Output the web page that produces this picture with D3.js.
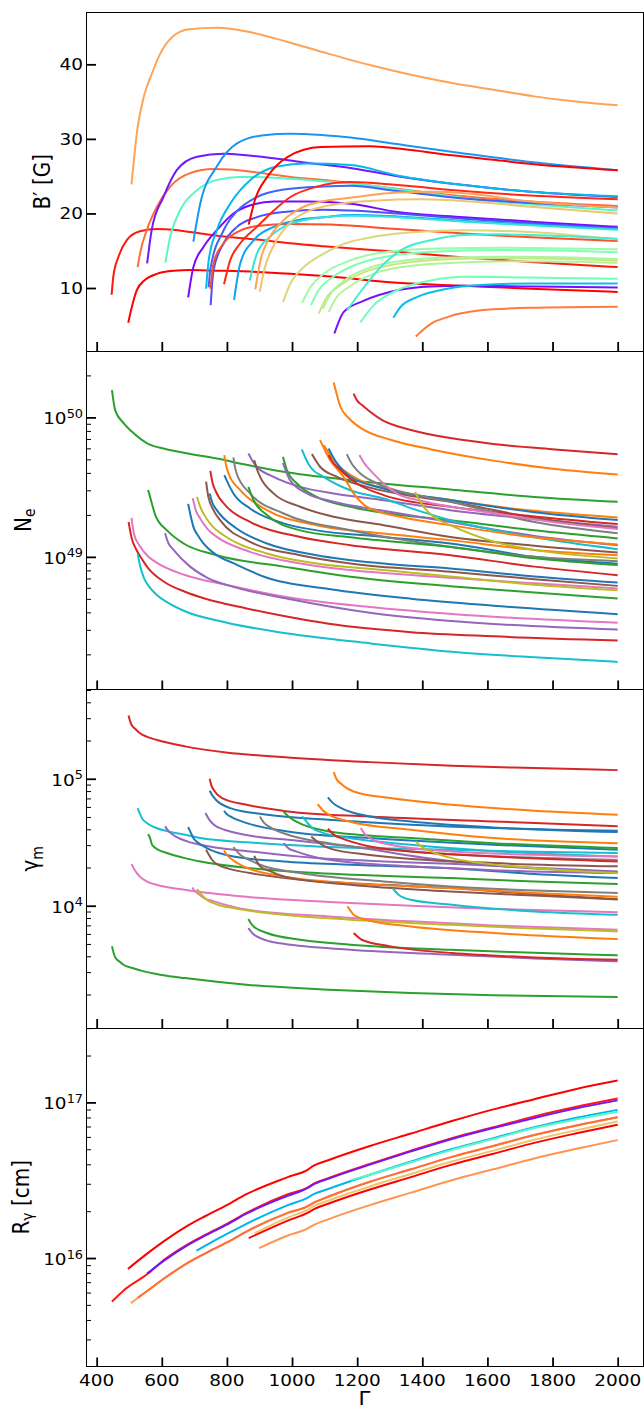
<!DOCTYPE html>
<html><head><meta charset="utf-8">
<script src="https://cdn.jsdelivr.net/npm/d3@7/dist/d3.min.js"></script>
<style>
html,body{margin:0;padding:0;background:#fff}
svg{display:block}
text{font-family:"DejaVu Sans",sans-serif;fill:#000}
</style></head>
<body>
<svg id="chart" width="644" height="1410"></svg>
<script>
// ================= DATA =================
const gammaTicks = [400, 600, 800, 1000, 1200, 1400, 1600, 1800, 2000];
const fieldTicks = [10, 20, 30, 40];

// Panel 1: B' [G] vs Gamma
const fieldSeries = [
 [[446,9.1],[451,11.5],[467,14.2],[492,16.4],[533,17.6],[585,17.9],[636,17.8],[687,17.5],[790,16.9],[892,16.5],[995,16.0],[1097,15.6],[1323,14.85],[1528,14.1],[1733,13.5],[2000,12.8]],
 [[497,5.34],[508,7.45],[523,9.69],[549,11.1],[585,11.9],[636,12.3],[687,12.4],[790,12.3],[892,12.15],[995,11.9],[1097,11.6],[1323,10.7],[1528,10.3],[1733,9.9],[2000,9.47]],
 [[507,23.9],[526,31.6],[545,35.7],[570,38.8],[596,41.5],[633,43.7],[684,44.7],[772,44.9],[861,44.4],[987,43.0],[1113,41.4],[1239,39.9],[1365,38.6],[1491,37.5],[1618,36.6],[1744,35.7],[1870,35.0],[2000,34.5]],
 [[526,12.8],[533,14.6],[554,17.8],[585,20.9],[626,23.6],[687,25.4],[759,25.95],[810,25.9],[892,25.5],[995,24.9],[1118,24.4],[1323,23.3],[1528,22.3],[1733,21.6],[2000,21.0]],
 [[555,13.3],[569,17.8],[605,22.2],[646,25.8],[708,27.6],[790,28.0],[862,27.8],[944,27.4],[1046,26.8],[1179,26.1],[1323,25.0],[1528,23.8],[1733,22.9],[2000,22.2]],
 [[611,13.4],[626,16.9],[656,20.4],[708,23.1],[769,24.5],[841,24.9],[944,24.8],[1046,24.5],[1179,24.0],[1400,22.8],[1600,21.7],[1800,21.0],[2000,20.4]],
 [[681,8.75],[697,12.8],[728,15.5],[769,17.75],[820,20.0],[872,21.1],[944,21.6],[1046,21.6],[1179,21.3],[1323,20.2],[1528,19.5],[1733,18.9],[2000,18.2]],
 [[697,16.2],[718,21.3],[769,26.3],[831,29.4],[913,30.5],[995,30.7],[1097,30.5],[1179,30.2],[1323,29.3],[1528,28.05],[1733,26.9],[2000,25.8]],
 [[736,9.9],[744,13.7],[769,17.75],[810,21.3],[872,24.5],[954,26.3],[1046,26.7],[1179,26.5],[1323,25.1],[1528,23.8],[1733,22.9],[2000,22.3]],
 [[750,7.7],[759,12.4],[790,16.0],[831,18.2],[892,19.5],[975,20.2],[1097,20.5],[1179,20.4],[1323,20.0],[1528,19.3],[1733,18.7],[2000,18.0]],
 [[744,10.1],[749,12.5],[790,17.75],[831,20.3],[892,22.2],[975,23.2],[1097,23.6],[1179,23.7],[1323,23.0],[1528,22.0],[1733,21.4],[2000,20.8]],
 [[749,9.9],[760,13.5],[790,16.0],[841,17.7],[892,18.3],[995,18.6],[1118,18.5],[1323,17.9],[1528,17.3],[1733,16.8],[2000,16.3]],
 [[791,10.5],[810,13.7],[841,16.0],[892,18.2],[944,20.4],[995,22.2],[1077,23.6],[1179,24.2],[1323,23.8],[1528,23.0],[1733,22.4],[2000,21.9]],
 [[822,8.4],[841,13.3],[882,16.4],[944,18.2],[1015,19.1],[1097,19.5],[1179,19.8],[1323,19.6],[1528,19.0],[1733,18.5],[2000,17.9]],
 [[867,18.5],[886,21.8],[924,24.9],[987,27.6],[1088,28.9],[1239,29.0],[1365,28.5],[1491,27.8],[1618,27.2],[1744,26.6],[2000,25.8]],
 [[870,11.0],[892,14.6],[933,16.9],[995,18.6],[1097,19.5],[1179,19.7],[1323,19.5],[1528,18.9],[1733,18.4],[2000,17.8]],
 [[887,9.8],[903,13.7],[933,16.9],[974,19.1],[1036,20.9],[1118,21.8],[1179,22.1],[1323,22.8],[1426,22.9],[1528,22.7],[1733,21.6],[2000,20.8]],
 [[901,9.5],[915,12.5],[945,15.8],[990,18.6],[1050,20.3],[1118,21.1],[1250,21.7],[1400,21.9],[1550,21.6],[1733,20.9],[2000,20.0]],
 [[972,8.1],[995,10.6],[1036,12.8],[1097,14.6],[1179,16.2],[1220,16.6],[1323,17.3],[1528,17.75],[1733,17.5],[2000,16.5]],
 [[1031,8.0],[1056,10.1],[1097,11.9],[1179,13.7],[1300,14.9],[1450,15.3],[1650,15.4],[1850,15.3],[2000,15.2]],
 [[1058,7.7],[1080,9.6],[1130,11.6],[1200,13.2],[1300,14.3],[1450,14.9],[1650,15.1],[1850,15.0],[2000,14.8]],
 [[1082,6.55],[1100,8.3],[1150,10.4],[1220,12.1],[1320,13.2],[1450,13.8],[1650,14.0],[1850,13.9],[2000,13.7]],
 [[1095,7.2],[1115,9.0],[1160,11.0],[1230,12.6],[1330,13.6],[1480,14.1],[1700,14.2],[2000,13.9]],
 [[1113,6.8],[1130,8.3],[1180,10.3],[1250,11.9],[1350,12.9],[1500,13.4],[1700,13.6],[2000,13.4]],
 [[1130,3.9],[1159,6.8],[1221,8.3],[1323,9.7],[1426,10.2],[1528,10.3],[1733,10.2],[2000,10.05]],
 [[1169,7.0],[1221,10.1],[1272,12.8],[1344,15.3],[1426,16.4],[1528,17.1],[1631,17.2],[1733,17.1],[2000,16.6]],
 [[1210,5.4],[1251,7.7],[1323,9.7],[1426,11.0],[1528,11.5],[1733,11.4],[2000,11.25]],
 [[1311,6.0],[1333,7.45],[1385,8.8],[1477,9.9],[1579,10.4],[1733,10.6],[2000,10.6]],
 [[1380,3.5],[1426,5.2],[1477,6.1],[1579,7.0],[1733,7.35],[2000,7.5]]
];
const fieldHue = [0.97,1.0,0.78,0.86,0.03,0.42,0.01,0.2,0.26,0.1,0.13,0.9,0.95,0.22,1.0,0.35,0.78,0.72,0.68,0.55,0.5,0.65,0.58,0.6,0.02,0.38,0.47,0.27,0.84];

// Panel 2: N_e (log10 values) vs Gamma
const electronLog = [
 [[447,50.196],[457,50.05],[482,49.96],[507,49.90],[558,49.81],[608,49.775],[671,49.745],[769,49.705],[860,49.66],[974,49.61],[1179,49.55],[1486,49.483],[1744,49.43],[2000,49.395]],
 [[498,49.25],[508,49.13],[520,49.06],[540,48.98],[558,48.92],[608,48.82],[671,48.75],[734,48.70],[860,48.63],[987,48.57],[1113,48.52],[1365,48.46],[1618,48.43],[2000,48.40]],
 [[507,49.28],[515,49.16],[532,49.08],[555,49.01],[583,48.96],[671,48.87],[797,48.80],[987,48.71],[1239,48.64],[1491,48.59],[2000,48.527]],
 [[526,49.02],[535,48.92],[545,48.85],[560,48.79],[583,48.73],[620,48.67],[671,48.61],[797,48.53],[987,48.45],[1239,48.38],[1491,48.32],[1744,48.28],[2000,48.247]],
 [[558,49.48],[564,49.43],[580,49.30],[616,49.19],[667,49.096],[769,49.012],[974,48.93],[1179,48.857],[1486,48.79],[1744,48.745],[2000,48.702]],
 [[610,49.17],[620,49.10],[636,49.05],[687,48.93],[740,48.85],[820,48.785],[987,48.70],[1239,48.60],[1491,48.54],[2000,48.479]],
 [[681,49.38],[690,49.28],[697,49.215],[712,49.15],[728,49.096],[770,49.01],[820,48.955],[923,48.85],[1113,48.77],[1365,48.70],[1618,48.65],[2000,48.589]],
 [[695,49.42],[705,49.33],[718,49.275],[740,49.2],[769,49.143],[871,49.036],[1025,48.952],[1179,48.905],[1486,48.85],[1744,48.81],[2000,48.773]],
 [[708,49.43],[718,49.36],[728,49.31],[755,49.22],[790,49.155],[923,49.024],[1076,48.952],[1281,48.905],[1486,48.86],[1744,48.80],[2000,48.761]],
 [[736,49.54],[743,49.43],[760,49.33],[779,49.263],[871,49.108],[1025,49.012],[1179,48.952],[1486,48.893],[1744,48.84],[2000,48.792]],
 [[747,49.455],[755,49.39],[769,49.335],[830,49.203],[923,49.096],[1076,49.012],[1281,48.952],[1486,48.916],[1744,48.86],[2000,48.816]],
 [[749,49.617],[756,49.53],[764,49.478],[800,49.359],[871,49.251],[1025,49.143],[1179,49.084],[1486,49.012],[1744,48.93],[2000,48.869]],
 [[792,49.73],[798,49.65],[805,49.598],[841,49.478],[923,49.335],[1076,49.227],[1281,49.167],[1486,49.12],[1744,49.05],[2000,49.012]],
 [[792,49.586],[805,49.52],[820,49.455],[871,49.347],[974,49.24],[1076,49.19],[1281,49.143],[1486,49.096],[1744,49.0],[2000,48.95]],
 [[820,49.713],[825,49.64],[830,49.598],[871,49.455],[974,49.311],[1179,49.191],[1486,49.072],[1744,49.0],[2000,48.969]],
 [[866,49.502],[874,49.45],[882,49.406],[923,49.30],[1025,49.19],[1179,49.14],[1486,49.07],[1744,48.99],[2000,48.941]],
 [[866,49.741],[878,49.69],[892,49.646],[943,49.574],[1025,49.502],[1128,49.454],[1281,49.406],[1486,49.335],[1744,49.27],[2000,49.216]],
 [[884,49.693],[892,49.63],[902,49.574],[943,49.455],[1025,49.359],[1128,49.287],[1281,49.227],[1486,49.143],[1744,49.08],[2000,49.032]],
 [[972,49.717],[978,49.67],[984,49.622],[1015,49.526],[1076,49.43],[1179,49.359],[1383,49.287],[1486,49.263],[1744,49.19],[2000,49.132]],
 [[972,49.674],[982,49.61],[994,49.55],[1046,49.455],[1128,49.395],[1281,49.33],[1486,49.25],[1744,49.15],[2000,49.084]],
 [[1030,49.77],[1043,49.70],[1056,49.646],[1097,49.574],[1179,49.478],[1281,49.419],[1383,49.335],[1486,49.263],[1744,49.14],[2000,49.055]],
 [[1061,49.737],[1073,49.69],[1086,49.646],[1138,49.574],[1230,49.502],[1383,49.43],[1486,49.395],[1744,49.28],[2000,49.204]],
 [[1086,49.837],[1100,49.77],[1117,49.693],[1138,49.63],[1158,49.574],[1189,49.455],[1230,49.359],[1332,49.287],[1486,49.227],[1744,49.14],[2000,49.089]],
 [[1098,49.80],[1120,49.72],[1150,49.64],[1200,49.56],[1300,49.48],[1486,49.407],[1744,49.33],[2000,49.283]],
 [[1112,49.777],[1125,49.72],[1138,49.67],[1179,49.574],[1281,49.49],[1486,49.407],[1744,49.32],[2000,49.264]],
 [[1112,49.73],[1125,49.68],[1138,49.646],[1199,49.526],[1281,49.443],[1486,49.359],[1744,49.29],[2000,49.235]],
 [[1128,50.25],[1138,50.16],[1148,50.08],[1176,49.99],[1214,49.92],[1302,49.84],[1428,49.77],[1618,49.69],[1807,49.63],[2000,49.591]],
 [[1168,49.737],[1183,49.67],[1199,49.622],[1261,49.526],[1383,49.443],[1486,49.395],[1744,49.25],[2000,49.17]],
 [[1189,50.17],[1200,50.12],[1214,50.09],[1277,49.98],[1365,49.91],[1491,49.85],[1618,49.81],[1807,49.77],[2000,49.735]],
 [[1207,49.73],[1222,49.67],[1240,49.622],[1281,49.526],[1322,49.454],[1400,49.40],[1600,49.32],[1800,49.25],[2000,49.20]],
 [[1378,49.466],[1390,49.41],[1404,49.359],[1435,49.287],[1486,49.227],[1618,49.11],[1744,49.05],[2000,48.989]]
];
const electronColor = ["C2","C3","C6","C9","C2","C4","C0","C6","C8","C5","C0","C3","C1","C0","C7","C2","C4","C5","C2","C4","C9","C5","C1","C1","C0","C3","C1","C7","C3","C6","C8"];

// Panel 3: gamma_m (log10 values) vs Gamma
const lorentzLog = [
 [[498,5.499],[502,5.46],[507,5.425],[520,5.39],[532,5.36],[555,5.33],[583,5.307],[671,5.255],[797,5.207],[987,5.168],[1239,5.131],[1491,5.102],[1744,5.084],[2000,5.068]],
 [[447,3.68],[452,3.63],[457,3.593],[470,3.56],[482,3.535],[510,3.51],[545,3.483],[600,3.455],[671,3.43],[860,3.378],[1113,3.339],[1365,3.312],[1618,3.294],[2000,3.281]],
 [[507,4.328],[515,4.29],[532,4.231],[555,4.19],[583,4.165],[671,4.126],[860,4.07],[1113,4.03],[1365,4.0],[1618,3.975],[2000,3.948]],
 [[526,4.769],[532,4.73],[539,4.69],[555,4.65],[583,4.612],[620,4.585],[671,4.559],[718,4.533],[860,4.50],[1076,4.467],[1302,4.45],[1486,4.441],[1744,4.425],[2000,4.415]],
 [[558,4.564],[564,4.533],[570,4.48],[590,4.44],[616,4.415],[671,4.375],[718,4.349],[871,4.296],[1076,4.257],[1486,4.218],[1744,4.19],[2000,4.171]],
 [[610,4.625],[620,4.59],[646,4.54],[680,4.505],[718,4.48],[871,4.428],[1076,4.375],[1281,4.349],[1486,4.33],[1744,4.30],[2000,4.27]],
 [[681,4.619],[690,4.57],[697,4.533],[715,4.49],[738,4.454],[820,4.388],[974,4.349],[1179,4.323],[1486,4.296],[1744,4.25],[2000,4.218]],
 [[694,4.144],[700,4.12],[709,4.10],[730,4.06],[760,4.034],[860,3.97],[1113,3.916],[1365,3.877],[1618,3.845],[2000,3.811]],
 [[708,4.131],[718,4.10],[738,4.047],[770,4.01],[820,3.981],[974,3.929],[1179,3.89],[1486,3.85],[1744,3.82],[2000,3.798]],
 [[734,4.73],[745,4.68],[760,4.638],[790,4.60],[810,4.585],[886,4.546],[987,4.52],[1200,4.46],[1400,4.38],[1600,4.32],[2000,4.265]],
 [[736,4.441],[745,4.40],[754,4.362],[775,4.32],[800,4.296],[871,4.257],[1025,4.205],[1281,4.165],[1486,4.139],[1744,4.09],[2000,4.052]],
 [[747,5.0],[752,4.95],[760,4.91],[785,4.848],[861,4.795],[987,4.743],[1239,4.703],[1618,4.664],[2000,4.625]],
 [[747,4.906],[755,4.87],[766,4.835],[810,4.769],[924,4.717],[1113,4.677],[1365,4.638],[1618,4.612],[2000,4.59]],
 [[791,4.748],[800,4.72],[810,4.703],[861,4.651],[987,4.585],[1239,4.533],[1618,4.48],[2000,4.441]],
 [[791,4.435],[800,4.40],[810,4.375],[830,4.34],[851,4.31],[974,4.231],[1179,4.178],[1486,4.139],[1744,4.10],[2000,4.07]],
 [[820,4.462],[830,4.43],[841,4.401],[870,4.36],[902,4.323],[1025,4.257],[1281,4.191],[1486,4.152],[1744,4.12],[2000,4.10]],
 [[884,4.393],[892,4.35],[902,4.31],[935,4.27],[974,4.231],[1179,4.165],[1486,4.113],[1744,4.08],[2000,4.05]],
 [[866,3.895],[874,3.86],[882,3.837],[923,3.785],[1025,3.732],[1179,3.693],[1486,3.653],[1744,3.63],[2000,3.609]],
 [[866,3.824],[880,3.78],[892,3.758],[930,3.72],[974,3.70],[1179,3.653],[1486,3.614],[1744,3.585],[2000,3.562]],
 [[901,4.703],[915,4.65],[937,4.612],[987,4.559],[1113,4.493],[1365,4.428],[1618,4.39],[2000,4.36]],
 [[972,4.748],[990,4.70],[1012,4.664],[1113,4.585],[1365,4.533],[1618,4.493],[2000,4.454]],
 [[974,4.493],[990,4.45],[1012,4.428],[1060,4.39],[1113,4.362],[1365,4.31],[1618,4.28],[2000,4.257]],
 [[1031,4.703],[1045,4.66],[1062,4.612],[1100,4.57],[1176,4.533],[1365,4.48],[1618,4.43],[2000,4.388]],
 [[1059,4.546],[1080,4.50],[1113,4.454],[1239,4.40],[1618,4.336],[2000,4.31]],
 [[1079,4.80],[1095,4.75],[1113,4.717],[1176,4.664],[1365,4.598],[1618,4.533],[2000,4.493]],
 [[1110,4.853],[1125,4.81],[1151,4.769],[1239,4.703],[1365,4.664],[1618,4.617],[2000,4.58]],
 [[1110,4.606],[1128,4.56],[1151,4.533],[1239,4.467],[1365,4.428],[1618,4.388],[2000,4.349]],
 [[1128,5.052],[1136,5.00],[1148,4.966],[1189,4.90],[1302,4.848],[1491,4.795],[1744,4.748],[2000,4.717]],
 [[1170,3.995],[1180,3.96],[1189,3.929],[1239,3.882],[1365,3.837],[1618,3.785],[2000,3.738]],
 [[1189,3.785],[1200,3.76],[1214,3.732],[1302,3.68],[1491,3.627],[1744,3.593],[2000,3.575]],
 [[1211,4.612],[1225,4.56],[1239,4.533],[1302,4.48],[1491,4.428],[2000,4.388]],
 [[1380,4.507],[1395,4.47],[1416,4.44],[1491,4.375],[1744,4.297],[2000,4.257]],
 [[1309,4.139],[1318,4.11],[1327,4.087],[1365,4.047],[1491,4.008],[1744,3.955],[2000,3.929]]
];
const lorentzColor = ["C3","C2","C6","C9","C2","C4","C0","C6","C8","C4","C5","C3","C0","C0","C1","C7","C5","C2","C4","C7","C2","C4","C9","C5","C1","C0","C3","C1","C1","C3","C6","C8","C9"];

// Panel 4: R_gamma [cm] (log10 values) vs Gamma
const radiusLog = [
 [[447,15.72],[482,15.79],[558,15.90],[608,15.99],[681,16.09],[734,16.15],[800,16.22],[860,16.29],[987,16.41],[1050,16.455],[1062,16.472],[1113,16.515],[1239,16.605],[1365,16.69],[1491,16.77],[1618,16.84],[1744,16.91],[1870,16.97],[2000,17.025]],
 [[496,15.93],[550,16.02],[608,16.11],[681,16.21],[734,16.27],[800,16.34],[860,16.41],[987,16.52],[1050,16.57],[1062,16.588],[1113,16.63],[1239,16.72],[1365,16.80],[1491,16.88],[1618,16.955],[1744,17.02],[1870,17.085],[2000,17.14]],
 [[505,15.71],[550,15.78],[608,15.87],[681,15.97],[734,16.03],[800,16.10],[860,16.17],[987,16.29],[1050,16.335],[1062,16.35],[1113,16.395],[1239,16.49],[1365,16.57],[1491,16.65],[1618,16.72],[1744,16.79],[1870,16.85],[2000,16.905]],
 [[526,15.745],[550,15.78],[608,15.87],[681,15.97],[734,16.03],[800,16.10],[860,16.17],[987,16.29],[1050,16.335],[1062,16.35],[1113,16.395],[1239,16.49],[1365,16.57],[1491,16.65],[1618,16.72],[1744,16.79],[1870,16.85],[2000,16.905]],
 [[555,15.90],[608,15.985],[681,16.085],[734,16.145],[800,16.215],[860,16.285],[987,16.40],[1050,16.452],[1062,16.468],[1113,16.51],[1239,16.60],[1365,16.685],[1491,16.765],[1618,16.835],[1744,16.90],[1870,16.96],[2000,17.013]],
 [[706,16.047],[734,16.08],[800,16.155],[860,16.22],[987,16.34],[1050,16.39],[1062,16.405],[1113,16.445],[1239,16.535],[1365,16.62],[1491,16.70],[1618,16.77],[1744,16.84],[1870,16.90],[2000,16.952]],
 [[1180,16.50],[1239,16.535],[1365,16.615],[1491,16.695],[1618,16.765],[1744,16.835],[1870,16.89],[2000,16.94]],
 [[867,16.128],[987,16.24],[1050,16.293],[1062,16.308],[1113,16.35],[1239,16.44],[1365,16.52],[1491,16.60],[1618,16.67],[1744,16.74],[1870,16.80],[2000,16.857]],
 [[885,16.16],[987,16.26],[1050,16.313],[1062,16.328],[1113,16.37],[1239,16.46],[1365,16.54],[1491,16.62],[1618,16.69],[1744,16.76],[1870,16.82],[2000,16.878]],
 [[899,16.064],[987,16.145],[1050,16.192],[1062,16.207],[1113,16.25],[1239,16.34],[1365,16.42],[1491,16.50],[1618,16.57],[1744,16.64],[1870,16.70],[2000,16.758]]
];
const radiusHue = [0.97,1.0,0.78,0.86,0.03,0.25,0.42,1.0,0.72,0.8];

// ================= LAYOUT / STYLE =================
const L = 86, R = 643, TOP = 12.5, PH = 338.5;
const SX = 1.12;           // horizontal text stretch
const TICK_FS = 16.5, LABEL_FS = 20;
const svg = d3.select("#chart");

function rainbow(t){
  const r = Math.min(1, Math.abs(2*t - 0.5));
  const g = Math.sin(Math.PI*t);
  const b = Math.cos(Math.PI*t/2);
  return d3.rgb(Math.round(r*255), Math.round(g*255), Math.round(b*255)).formatHex();
}
const tab = c => d3.schemeCategory10[+c.slice(1)];

const x = d3.scaleLinear().domain([367.25, 2077.75]).range([L, R]);

const panels = [
  {y: d3.scaleLinear().domain([1.55, 46.95]), log:false, series: fieldSeries, color: i => rainbow(fieldHue[i]), majors: fieldTicks},
  {y: d3.scaleLog().domain([Math.pow(10,48.049), Math.pow(10,50.476)]), log:true, series: electronLog, color: i => tab(electronColor[i])},
  {y: d3.scaleLog().domain([Math.pow(10,3.037), Math.pow(10,5.703)]), log:true, series: lorentzLog, color: i => tab(lorentzColor[i])},
  {y: d3.scaleLog().domain([Math.pow(10,15.303), Math.pow(10,17.478)]), log:true, series: radiusLog, color: i => rainbow(radiusHue[i])}
];

panels.forEach((p, k) => {
  const top = TOP + k*PH, bot = top + PH;
  p.y.range([bot, top]);
  const g = svg.append("g");
  const clipId = "clip"+k;
  svg.append("clipPath").attr("id", clipId).append("rect")
    .attr("x", L).attr("y", top).attr("width", R-L).attr("height", PH);

  const line = d3.line()
    .x(d => x(d[0]))
    .y(d => p.log ? p.y(Math.pow(10, d[1])) : p.y(d[1]))
    .curve(d3.curveMonotoneX);

  const lg = g.append("g").attr("clip-path", `url(#${clipId})`);
  p.series.forEach((s, i) => {
    lg.append("path").attr("d", line(s))
      .attr("fill","none").attr("stroke", p.color(i))
      .attr("stroke-width", 2).attr("stroke-linejoin","round").attr("stroke-linecap","butt");
  });

  // x ticks (inward)
  const xa = g.append("g").attr("transform", `translate(0,${bot})`)
    .call(d3.axisBottom(x).tickValues(gammaTicks).tickSizeInner(-9).tickSizeOuter(0).tickFormat(""));
  xa.select(".domain").remove();
  xa.selectAll("line").attr("stroke","#000").attr("stroke-width",1.8);

  // y ticks
  let majors, minors = [];
  if (p.log) {
    const all = p.y.ticks();
    majors = all.filter(v => Math.abs(Math.log10(v) - Math.round(Math.log10(v))) < 1e-9);
    minors = all.filter(v => !majors.includes(v));
  } else majors = p.majors;
  const ya = g.append("g").attr("transform", `translate(${L},0)`)
    .call(d3.axisLeft(p.y).tickValues(majors).tickSizeInner(-10).tickSizeOuter(0).tickFormat(""));
  ya.select(".domain").remove();
  ya.selectAll("line").attr("stroke","#000").attr("stroke-width",1.8);
  if (minors.length) {
    const ym = g.append("g").attr("transform", `translate(${L},0)`)
      .call(d3.axisLeft(p.y).tickValues(minors).tickSizeInner(-5).tickSizeOuter(0).tickFormat(""));
    ym.select(".domain").remove();
    ym.selectAll("line").attr("stroke","#000").attr("stroke-width",1);
  }

  // y tick labels
  majors.forEach(v => {
    const yy = p.y(v);
    if (p.log) {
      const t = g.append("text").attr("text-anchor","end")
        .attr("transform", `translate(83,${yy+7}) scale(${SX},1)`)
        .style("font-size", TICK_FS+"px");
      t.append("tspan").text("10");
      t.append("tspan").attr("dy", -6.5).style("font-size","11.5px").text(String(Math.round(Math.log10(v))));
    } else {
      g.append("text").attr("text-anchor","end")
        .attr("transform", `translate(83,${yy}) scale(${SX},1)`)
        .attr("dy","0.36em").style("font-size", TICK_FS+"px").text(v);
    }
  });

  // frame
  g.append("rect").attr("x", L).attr("y", top).attr("width", R-L).attr("height", PH)
    .attr("fill","none").attr("stroke","#000").attr("stroke-width",1)
    .attr("shape-rendering","crispEdges");
});

// x tick labels (bottom panel)
gammaTicks.forEach(v => {
  svg.append("text").attr("text-anchor","middle")
    .attr("transform", `translate(${x(v)},1386) scale(${SX},1)`)
    .style("font-size", TICK_FS+"px").text(v);
});

// axis labels
function ylab(xb, k, parts){
  const cy = TOP + k*PH + PH/2;
  const t = svg.append("text").attr("text-anchor","middle")
    .attr("transform", `translate(${xb},${cy}) scale(${SX},1) rotate(-90)`)
    .style("font-size", LABEL_FS+"px");
  parts.forEach(pt => {
    const ts = t.append("tspan").text(pt.t);
    if (pt.sub) ts.attr("dy", pt.dy).style("font-size","14px");
    else if (pt.dy) ts.attr("dy", pt.dy);
  });
}
ylab(49.5, 0, [{t:"B′ [G]"}]);
ylab(30.8, 1, [{t:"N"},{t:"e", sub:true, dy:4}]);
ylab(38.4, 2, [{t:"γ"},{t:"m", sub:true, dy:4}]);
ylab(28.8, 3, [{t:"R"},{t:"γ", sub:true, dy:4},{t:" [cm]", dy:-4}]);

svg.append("text").attr("text-anchor","middle")
  .attr("transform", `translate(${(L+R)/2},1405) scale(${SX},1)`)
  .style("font-size", "19px").text("Γ");
</script>
</body></html>
